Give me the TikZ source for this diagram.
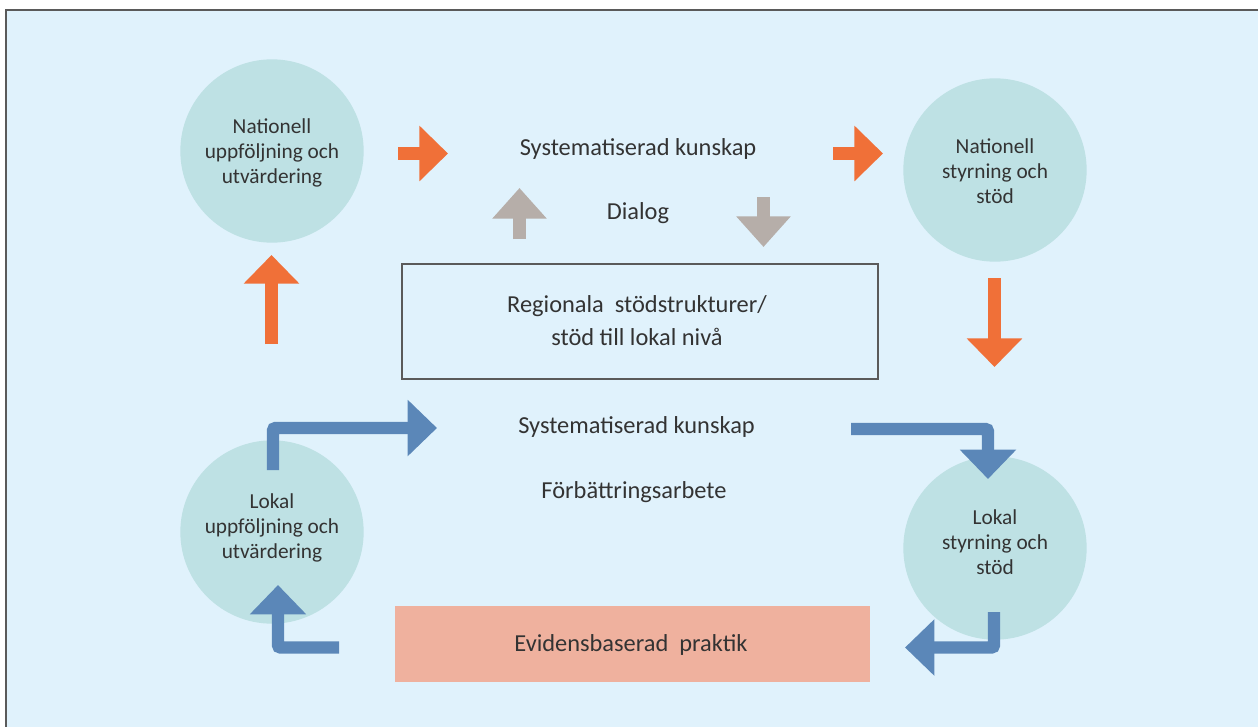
\documentclass[tikz,border=0pt]{standalone}
\usepackage{fontspec}
\setmainfont{Carlito}
\usetikzlibrary{arrows.meta}
\definecolor{bgblue}{HTML}{E0F2FC}
\definecolor{framegray}{HTML}{5A5A5A}
\definecolor{circfill}{HTML}{BEE1E4}
\definecolor{orangeA}{HTML}{F07038}
\definecolor{grayA}{HTML}{B6AEA9}
\definecolor{blueA}{HTML}{5B87B8}
\definecolor{salmon}{HTML}{EFB19E}
\definecolor{txt}{HTML}{333333}
\tikzset{
  circ/.style={circle, fill=circfill, minimum size=137.5pt, inner sep=0pt},
  ctext/.style={align=center, text=txt, font=\fontsize{16}{18.75}\selectfont},
  mtext/.style={align=center, text=txt, font=\fontsize{18.3}{24.75}\selectfont},
  bigarrow/.style={line width=9.5pt, -{Triangle[width=40.5pt, length=21.5pt]}},
  orangearrow/.style={bigarrow, draw=orangeA},
  grayarrow/.style={line width=9.5pt, draw=grayA, -{Triangle[width=39.5pt, length=23pt]}},
  bluearrow/.style={line width=9.3pt, draw=blueA, rounded corners=2pt, -{Triangle[width=41pt, length=22pt]}},
}
\begin{document}
\begin{tikzpicture}[x=0.75pt, y=-0.75pt]
\useasboundingbox (0,0) rectangle (1258,726);
% frame
\fill[bgblue] (6,10) rectangle (1270,740);
\draw[framegray, line width=1.6pt] (6,740) -- (6,10) -- (1270,10);

% circles
\node[circ] (nuu) at (272,151) {};
\node[circ] (nss) at (995,170) {};
\node[circ] (luu) at (272,532) {};
\node[circ] (lss) at (995,548) {};
\node[ctext] (nuut) at (272,153) {Nationell\\uppföljning och\\utvärdering};
\node[ctext] (nsst) at (995,171) {Nationell\\styrning och\\stöd};
\node[ctext] (luut) at (272,528) {Lokal\\uppföljning och\\utvärdering};
\node[ctext] (lsst) at (995,542) {Lokal\\styrning och\\stöd};

% texts
\node[mtext] (sk1) at (638,149) {Systematiserad kunskap};
\node[mtext] (dia) at (638,213) {Dialog};
\node[mtext] (sk2) at (636.5,427) {Systematiserad kunskap};
\node[mtext] (fba) at (634,492) {Förbättringsarbete};

% regional box
\node[draw=framegray, line width=1.1pt, minimum width=357pt, minimum height=86pt, inner sep=0pt] (reg) at (640,321.5) {};
\node[mtext] (regt) at (637,321) {Regionala\ \ stödstrukturer/\\stöd till lokal nivå};

% evidence box
\node[fill=salmon, minimum width=356.25pt, minimum height=57pt, inner sep=0pt] (evb) at (632.5,644) {};
\node[mtext] (evt) at (631,645) {Evidensbaserad\ \ praktik};

% orange arrows
\coordinate (o1s) at (398,153.5);
\coordinate (o1e) at (448,153.5);
\draw[orangearrow] (o1s) -- (o1e);
\coordinate (o2s) at (833,153.5);
\coordinate (o2e) at (883,153.5);
\draw[orangearrow] (o2s) -- (o2e);
\coordinate (o3s) at (271.5,344);
\coordinate (o3e) at (271.5,255);
\draw[orangearrow] (o3s) -- (o3e);
\coordinate (o4s) at (994.5,278);
\coordinate (o4e) at (994.5,367);
\draw[orangearrow] (o4s) -- (o4e);

% gray dialog arrows
\coordinate (g1s) at (519.5,239);
\coordinate (g1e) at (519.5,188);
\draw[grayarrow] (g1s) -- (g1e);
\coordinate (g2s) at (763.5,197);
\coordinate (g2e) at (763.5,247);
\draw[grayarrow] (g2s) -- (g2e);

% blue elbow arrows
\coordinate (b1s) at (273,470);
\coordinate (b1c) at (273,428);
\coordinate (b1e) at (437,428);
\draw[bluearrow] (b1s) -- (b1c) -- (b1e);
\coordinate (b2s) at (851,429);
\coordinate (b2c) at (988,429);
\coordinate (b2e) at (988,479);
\draw[bluearrow] (b2s) -- (b2c) -- (b2e);
\coordinate (b3s) at (994,612);
\coordinate (b3c) at (994,647.5);
\coordinate (b3e) at (905,647.5);
\draw[bluearrow] (b3s) -- (b3c) -- (b3e);
\coordinate (b4s) at (339,647.5);
\coordinate (b4c) at (278,647.5);
\coordinate (b4e) at (278,585);
\draw[bluearrow] (b4s) -- (b4c) -- (b4e);
\end{tikzpicture}
\end{document}
